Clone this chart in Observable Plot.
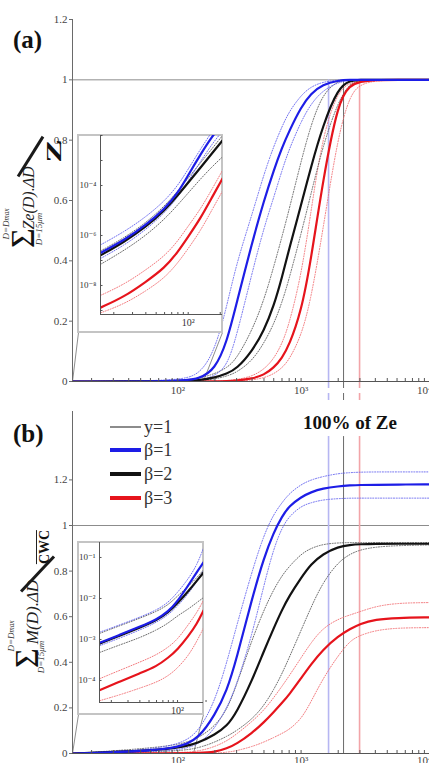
<!DOCTYPE html>
<html>
<head>
<meta charset="utf-8">
<script src="https://cdn.jsdelivr.net/npm/d3@7"></script>
<script src="https://cdn.jsdelivr.net/npm/@observablehq/plot@0.6"></script>
<style>
  html, body { margin: 0; padding: 0; background: #fff; }
  #fig { position: relative; width: 429px; height: 763px; overflow: hidden; background: #fff;
         font-family: "Liberation Serif", "DejaVu Serif", serif; color: #222; }
  #fig svg { position: absolute; left: 0; overflow: visible; }
  .rot { position: absolute; transform: translate(-50%, -50%) rotate(-90deg); white-space: nowrap; line-height: 1; }
  .plain { position: absolute; transform: translate(-50%, -50%); white-space: nowrap; line-height: 1; }
  .tag { position: absolute; font-weight: bold; font-size: 25px; line-height: 1; color: #111; }
  .insetBox { position: absolute; box-sizing: border-box; border: 2px solid #c4c4c4; background: #fff; }
  .bar { position: absolute; background: #1a1a1a; }
  .legend { position: absolute; left: 110px; top: 0; font-size: 18px; color: #333; }
  .legend .row { position: absolute; left: 0; height: 24px; display: flex; align-items: center; white-space: nowrap; }
  .legend .swatch { width: 31px; margin-right: 3px; }
</style>
</head>
<body>
<div id="fig"></div>
<script>
// Drop diameter D (µm) at which every cumulative curve is sampled
const D = [14, 100, 150, 200, 250, 300, 400, 500, 600, 700, 800, 1000, 1200, 1500, 2000, 2500, 3000, 4000, 6000, 11000];

// (a) cumulative reflectivity fraction  sum Ze(D)ΔD / Z
const blueA    = [0, 0, 0.008, 0.04, 0.13, 0.26, 0.46, 0.6, 0.7, 0.775, 0.83, 0.91, 0.955, 0.985, 0.998, 1, 1, 1, 1, 1];
const blueHiA  = [0, 0.002, 0.021, 0.103, 0.25, 0.393, 0.553, 0.688, 0.78, 0.845, 0.895, 0.949, 0.977, 0.993, 1, 1, 1, 1, 1, 1];
const blueLoA  = [0, 0, 0.002, 0.019, 0.05, 0.15, 0.36, 0.51, 0.61, 0.7, 0.77, 0.862, 0.92, 0.965, 0.992, 0.999, 1, 1, 1, 1];
const blackA   = [0, 0, 0.004, 0.013, 0.026, 0.042, 0.100, 0.169, 0.25, 0.345, 0.44, 0.585, 0.71, 0.848, 0.975, 0.998, 1, 1, 1, 1];
const blackHiA = [0, 0.002, 0.01, 0.026, 0.045, 0.075, 0.169, 0.27, 0.38, 0.48, 0.57, 0.73, 0.85, 0.955, 0.998, 1, 1, 1, 1, 1];
const blackLoA = [0, 0, 0.002, 0.008, 0.018, 0.03, 0.068, 0.127, 0.19, 0.262, 0.34, 0.49, 0.62, 0.78, 0.93, 0.99, 0.999, 1, 1, 1];
const redA     = [0, 0, 0, 0, 0.001, 0.003, 0.009, 0.022, 0.045, 0.078, 0.12, 0.23, 0.4, 0.665, 0.93, 0.983, 0.994, 1, 1, 1];
const redHiA   = [0, 0, 0, 0.001, 0.003, 0.006, 0.017, 0.04, 0.075, 0.125, 0.19, 0.35, 0.56, 0.82, 0.965, 0.99, 0.997, 1, 1, 1];
const redLoA   = [0, 0, 0, 0, 0, 0.001, 0.005, 0.012, 0.025, 0.045, 0.072, 0.15, 0.27, 0.5, 0.82, 0.95, 0.985, 0.997, 1, 1];

// (b) cumulative water content fraction  sum M(D)ΔD / CWC
const blueB    = [0, 0.013, 0.07, 0.17, 0.274, 0.416, 0.68, 0.86, 0.97, 1.04, 1.085, 1.125, 1.146, 1.163, 1.172, 1.176, 1.178, 1.178, 1.18, 1.18];
const blueHiB  = [0, 0.02, 0.1, 0.23, 0.4, 0.56, 0.8, 0.96, 1.05, 1.1, 1.14, 1.18, 1.2, 1.215, 1.228, 1.232, 1.234, 1.235, 1.235, 1.235];
const blueLoB  = [0, 0.008, 0.04, 0.11, 0.2, 0.3, 0.52, 0.74, 0.9, 0.99, 1.04, 1.085, 1.1, 1.113, 1.118, 1.12, 1.12, 1.12, 1.12, 1.12];
const blackB   = [0, 0.017, 0.049, 0.083, 0.12, 0.18, 0.32, 0.45, 0.55, 0.63, 0.69, 0.77, 0.83, 0.875, 0.907, 0.915, 0.918, 0.92, 0.92, 0.92];
const blackHiB = [0, 0.03, 0.07, 0.12, 0.19, 0.3, 0.5, 0.63, 0.72, 0.78, 0.82, 0.875, 0.9, 0.918, 0.924, 0.925, 0.925, 0.925, 0.925, 0.925];
const blackLoB = [0, 0.008, 0.025, 0.05, 0.075, 0.1, 0.15, 0.21, 0.28, 0.35, 0.42, 0.54, 0.64, 0.75, 0.84, 0.875, 0.893, 0.906, 0.912, 0.915];
const redB     = [0, 0.001, 0.002, 0.006, 0.022, 0.042, 0.09, 0.137, 0.182, 0.222, 0.258, 0.33, 0.39, 0.455, 0.515, 0.546, 0.569, 0.588, 0.595, 0.597];
const redHiB   = [0, 0.002, 0.01, 0.03, 0.055, 0.085, 0.14, 0.19, 0.245, 0.295, 0.34, 0.42, 0.485, 0.55, 0.59, 0.608, 0.622, 0.645, 0.66, 0.662];
const redLoB   = [0, 0, 0, 0.002, 0.005, 0.012, 0.03, 0.05, 0.07, 0.088, 0.105, 0.15, 0.225, 0.328, 0.43, 0.495, 0.518, 0.54, 0.551, 0.552];

// small-drop detail (log–log insets)
const insetDA = [15, 25, 40, 60, 80, 100, 130, 170, 210];
const blueInA    = [2.0e-7, 6.5e-7, 2.6e-6, 1.15e-5, 5e-5, 2.6e-4, 1.7e-3, 1e-2, 3e-2];
const blueHiInA  = [4.2e-7, 1.4e-6, 5.5e-6, 2.4e-5, 1e-4, 4.5e-4, 2.8e-3, 1.6e-2, 5e-2];
const blueLoInA  = [1.2e-7, 4e-7, 1.7e-6, 8e-6, 3.4e-5, 1.5e-4, 9e-4, 5e-3, 1.5e-2];
const blackInA   = [1.6e-7, 5.5e-7, 2.2e-6, 1e-5, 4.1e-5, 1.3e-4, 5.1e-4, 2.1e-3, 6.3e-3];
const blackHiInA = [2.4e-7, 8e-7, 3.2e-6, 1.5e-5, 6e-5, 2e-4, 8e-4, 3.2e-3, 1e-2];
const blackLoInA = [7e-8, 2.5e-7, 1e-6, 4.5e-6, 1.7e-5, 5e-5, 1.8e-4, 6e-4, 1.4e-3];
const redInA     = [1.3e-9, 3.5e-9, 1.4e-8, 5e-8, 2.2e-7, 9e-7, 4.7e-6, 3.8e-5, 1.9e-4];
const redHiInA   = [4e-9, 1.1e-8, 4.2e-8, 1.5e-7, 6e-7, 2.4e-6, 1.1e-5, 8e-5, 4e-4];
const redLoInA   = [8e-10, 1.8e-9, 6e-9, 2e-8, 8e-8, 3e-7, 1.5e-6, 1.2e-5, 6e-5];

const insetDB = [15, 25, 40, 60, 80, 100, 130, 160, 188];
const blueInB    = [8.3e-4, 1.32e-3, 2.05e-3, 3.05e-3, 4.8e-3, 8.5e-3, 2.1e-2, 4.4e-2, 7.6e-2];
const blueHiInB  = [1.5e-3, 2.3e-3, 3.5e-3, 5.2e-3, 8e-3, 1.4e-2, 3e-2, 6.5e-2, 0.17];
const blueLoInB  = [7e-4, 1.1e-3, 1.7e-3, 2.6e-3, 4e-3, 6.5e-3, 1.3e-2, 2.6e-2, 4.8e-2];
const blackInB   = [7.9e-4, 1.26e-3, 1.95e-3, 2.9e-3, 4.6e-3, 7.6e-3, 1.5e-2, 2.7e-2, 4.3e-2];
const blackHiInB = [1.4e-3, 2.2e-3, 3.3e-3, 4.8e-3, 7e-3, 1.15e-2, 2e-2, 3.2e-2, 5e-2];
const blackLoInB = [4.8e-4, 7.5e-4, 1.1e-3, 1.7e-3, 2.5e-3, 3.8e-3, 5.5e-3, 8e-3, 1.05e-2];
const redInB     = [5.8e-5, 9.5e-5, 1.5e-4, 2.2e-4, 3.6e-4, 5.7e-4, 1.2e-3, 2.4e-3, 5.1e-3];
const redHiInB   = [1.1e-4, 1.8e-4, 2.8e-4, 4.2e-4, 6.5e-4, 1e-3, 2.3e-3, 4.5e-3, 9e-3];
const redLoInB   = [3.2e-5, 4.5e-5, 6.5e-5, 9e-5, 1.3e-4, 2e-4, 4e-4, 9e-4, 1.9e-3];

// diameter reaching 100% of Ze for β = 1, 2, 3
const fullZeD = [1670, 2210, 2980];

// ticks and labels
const yTicks = [0, 0.2, 0.4, 0.6, 0.8, 1, 1.2];
const xMajor = [100, 1000, 10000];
const xMajorLabels = ["10²", "10³", "10⁴"];
const xMinor = [20, 30, 40, 50, 60, 70, 80, 90, 200, 300, 400, 500, 600, 700, 800, 900,
                2000, 3000, 4000, 5000, 6000, 7000, 8000, 9000];
const insetXMinor = [20, 30, 40, 50, 60, 70, 80, 90, 100, 200];
const insetXLabel = [100];
const insetXLabelText = ["10²"];
const insetDecadesA = [1e-9, 1e-8, 1e-7, 1e-6, 1e-5, 1e-4, 1e-3, 1e-2];
const insetYTicksA = [1e-4, 1e-6, 1e-8];
const insetYLabelsA = ["10⁻⁴", "10⁻⁶", "10⁻⁸"];
const insetDecadesB = [1e-4, 1e-3, 1e-2, 1e-1];
const insetYTicksB = [1e-1, 1e-2, 1e-3, 1e-4];
const insetYLabelsB = ["10⁻¹", "10⁻²", "10⁻³", "10⁻⁴"];
const legendLabels = ["y=1", "β=1", "β=2", "β=3"];

// ---- styling ----
const SERIF = '"Liberation Serif", "DejaVu Serif", serif';
const COL = {blue: "#1d1de6", black: "#121212", red: "#e6141c"};
const DOT = {blue: "#6060ee", black: "#5a5a5a", red: "#f06a6e"};
const VLINE = ["#b6b6f2", "#6a6a6a", "#f2a4a8"];
const VLINE_W = [1.6, 1, 1.6];
const FIG_W = 429, PLOT_LEFT = 72;
const X_DOMAIN = [14, 11000];
const fig = document.getElementById("fig");

function curveMark(xs, vs, stroke, solid) {
  const data = xs.map((x, i) => ({x, v: vs[i]}));
  const opts = {x: "x", y: "v", stroke, curve: "basis", clip: true, strokeWidth: solid ? 2.2 : 0.9};
  if (!solid) opts.strokeDasharray = "1,1.6";
  return Plot.line(data, opts);
}

function seriesSet(b, bh, bl, k, kh, kl, r, rh, rl) {
  return [
    {v: rh, c: DOT.red}, {v: rl, c: DOT.red},
    {v: kh, c: DOT.black}, {v: kl, c: DOT.black},
    {v: bh, c: DOT.blue}, {v: bl, c: DOT.blue},
    {v: r, c: COL.red, solid: true}, {v: k, c: COL.black, solid: true}, {v: b, c: COL.blue, solid: true}
  ];
}

function mainPanel(p) {
  const x = d3.scaleLog().domain(X_DOMAIN).range([PLOT_LEFT, FIG_W]);
  const y = d3.scaleLinear().domain([0, p.yMax]).range([p.bottom, p.plotTop]);
  const tickUp = y.invert(p.bottom - 3);
  const tickOut = x.invert(PLOT_LEFT - 3);
  const c0 = {x: x.invert(p.box.left), y: y.invert(p.box.bottom)};
  const c1 = {x: x.invert(p.box.right), y: y.invert(p.box.bottom)};
  const marks = [];
  marks.push(Plot.ruleY([1], {x1: X_DOMAIN[0], x2: X_DOMAIN[1], stroke: "#8c8c8c", strokeWidth: 1}));
  fullZeD.forEach((d, i) => {
    marks.push(Plot.ruleX([d], {y1: 0, y2: p.ruleTop, stroke: VLINE[i], strokeWidth: VLINE_W[i]}));
    if (p.ruleBelow) marks.push(Plot.ruleX([d], {y1: 0, y2: y.invert(p.bottom + p.ruleBelow),
      stroke: VLINE[i], strokeWidth: VLINE_W[i], strokeDasharray: "7,5"}));
  });
  marks.push(Plot.link([
      {x1: X_DOMAIN[0], y1: 0, x2: c0.x, y2: c0.y},
      {x1: p.zoomEnd, y1: 0, x2: c1.x, y2: c1.y}],
    {x1: "x1", y1: "y1", x2: "x2", y2: "y2", stroke: "#808080", strokeWidth: 0.9}));
  for (const s of p.series) marks.push(curveMark(D, s.v, s.c, s.solid));
  marks.push(
    Plot.ruleX([X_DOMAIN[0]], {y1: 0, y2: p.yMax, stroke: "#6a6a6a"}),
    Plot.ruleY([0], {x1: X_DOMAIN[0], x2: X_DOMAIN[1], stroke: "#555"}),
    Plot.ruleY(yTicks, {x1: tickOut, x2: X_DOMAIN[0], stroke: "#6a6a6a"}),
    Plot.text(yTicks, {x: X_DOMAIN[0], y: d => d, text: d => String(d), textAnchor: "end", dx: -5,
      fontSize: 11, fill: "#444"}),
    Plot.ruleX([...xMajor, ...xMinor], {y1: 0, y2: tickUp, stroke: "#555"}),
    Plot.text(xMajor, {x: d => d, y: 0, text: (d, i) => xMajorLabels[i], dy: p.labelDy, fontSize: 11, fill: "#444"})
  );
  const svg = Plot.plot({
    width: FIG_W, height: p.height,
    marginTop: p.plotTop - p.top, marginBottom: p.top + p.height - p.bottom,
    marginLeft: PLOT_LEFT, marginRight: 0,
    x: {type: "log", domain: X_DOMAIN, axis: null},
    y: {domain: [0, p.yMax], axis: null},
    style: {background: "transparent", overflow: "visible", fontFamily: SERIF},
    marks
  });
  svg.style.top = p.top + "px";
  fig.appendChild(svg);
}

function insetPanel(q) {
  const box = document.createElement("div");
  box.className = "insetBox";
  Object.assign(box.style, {left: (q.left - 1) + "px", top: (q.top - 1) + "px",
    width: (q.w + 2) + "px", height: (q.h + 2) + "px"});
  fig.appendChild(box);
  const x = d3.scaleLog().domain(q.xDomain).range([q.axisX, q.left + q.w]);
  const y = d3.scaleLog().domain(q.yDomain).range([q.axisY, q.top]);
  const tickUp = y.invert(q.axisY - 2), tickIn = x.invert(q.axisX + 2.5);
  const marks = [];
  for (const s of q.series) marks.push(curveMark(q.xs, s.v, s.c, s.solid));
  marks.push(
    Plot.ruleX([q.xDomain[0]], {stroke: "#555"}),
    Plot.ruleY([q.yDomain[0]], {stroke: "#555"}),
    Plot.ruleX(insetXMinor, {y1: q.yDomain[0], y2: tickUp, stroke: "#555"}),
    Plot.ruleY(q.decades, {x1: q.xDomain[0], x2: tickIn, stroke: "#555"}),
    Plot.text(q.yTicks, {x: q.xDomain[0], y: d => d, text: (d, i) => q.yLabels[i], textAnchor: "end",
      dx: -4, fontSize: 9, fill: "#333"}),
    Plot.text(insetXLabel, {x: d => d, y: q.yDomain[0], text: (d, i) => insetXLabelText[i], dy: 8,
      fontSize: 10, fill: "#333"})
  );
  const svg = Plot.plot({
    width: q.w, height: q.h,
    marginTop: 0, marginRight: 0, marginLeft: q.axisX - q.left, marginBottom: q.top + q.h - q.axisY,
    x: {type: "log", domain: q.xDomain, axis: null},
    y: {type: "log", domain: q.yDomain, axis: null},
    style: {background: "transparent", overflow: "visible", fontFamily: SERIF},
    marks
  });
  svg.style.left = q.left + "px";
  svg.style.top = q.top + "px";
  fig.appendChild(svg);
}

mainPanel({
  top: 0, height: 410, plotTop: 19, bottom: 381, yMax: 1.2, ruleTop: 1, ruleBelow: 24, zoomEnd: 161,
  labelDy: 9, box: {left: 78, right: 222, bottom: 332},
  series: seriesSet(blueA, blueHiA, blueLoA, blackA, blackHiA, blackLoA, redA, redHiA, redLoA)
});
mainPanel({
  top: 400, height: 363, plotTop: 411, bottom: 753, yMax: 1.5, ruleTop: 1.39, ruleBelow: 0, zoomEnd: 134,
  labelDy: 7, box: {left: 78, right: 203, bottom: 714},
  series: seriesSet(blueB, blueHiB, blueLoB, blackB, blackHiB, blackLoB, redB, redHiB, redLoB)
});
insetPanel({
  left: 78, top: 135, w: 144, h: 197, axisX: 100, axisY: 314,
  xDomain: [15, 210], yDomain: [6.9e-10, 1e-2], xs: insetDA,
  decades: insetDecadesA, yTicks: insetYTicksA, yLabels: insetYLabelsA,
  series: seriesSet(blueInA, blueHiInA, blueLoInA, blackInA, blackHiInA, blackLoInA, redInA, redHiInA, redLoInA)
});
insetPanel({
  left: 78, top: 542, w: 125, h: 172, axisX: 99, axisY: 702,
  xDomain: [15, 188], yDomain: [2.9e-5, 0.232], xs: insetDB,
  decades: insetDecadesB, yTicks: insetYTicksB, yLabels: insetYLabelsB,
  series: seriesSet(blueInB, blueHiInB, blueLoInB, blackInB, blackHiInB, blackLoInB, redInB, redHiInB, redLoInB)
});

// ---- annotations ----
function put(cls, html, cx, cy, css) {
  const el = document.createElement("div");
  el.className = cls;
  el.innerHTML = html;
  el.style.left = cx + "px";
  el.style.top = cy + "px";
  if (css) Object.assign(el.style, css);
  fig.appendChild(el);
  return el;
}
function bar(x1, y1, x2, y2, w) {
  const len = Math.hypot(x2 - x1, y2 - y1);
  const ang = Math.atan2(x2 - x1, y1 - y2) * 180 / Math.PI;
  const el = document.createElement("div");
  el.className = "bar";
  Object.assign(el.style, {left: ((x1 + x2) / 2 - w / 2) + "px", top: ((y1 + y2) / 2 - len / 2) + "px",
    width: w + "px", height: len + "px", transform: `rotate(${ang}deg)`});
  fig.appendChild(el);
}

put("tag", "(a)", 0, 0, {left: "13px", top: "27px"});
put("tag", "(b)", 0, 0, {left: "13px", top: "421px"});

const small = {fontSize: "9px", fontStyle: "italic", color: "#333"};
// (a) y-axis expression
put("rot", "D=D<span style='font-size:0.8em'>max</span>", 7, 224, small);
put("rot", "Σ", 23, 238, {fontSize: "34px", color: "#111"});
put("rot", "D=15μm", 39, 229, small);
put("rot", "Ze(D).ΔD", 29, 198, {fontSize: "16px", fontStyle: "italic", color: "#222"});
bar(18, 177, 43, 137, 3);
put("rot", "Z", 54, 151, {fontSize: "22px", fontWeight: "bold", color: "#111",
  transform: "translate(-50%, -50%) rotate(-90deg) scaleX(1.6)"});

// (b) y-axis expression
put("rot", "D=D<span style='font-size:0.8em'>max</span>", 12, 636, small);
put("rot", "Σ", 27, 658, {fontSize: "34px", color: "#111"});
put("rot", "D=15μm", 41, 657, small);
put("rot", "M(D).ΔD", 32, 612, {fontSize: "17px", fontStyle: "italic", color: "#222"});
bar(21, 592, 54, 557, 3);
put("rot", "CWC", 44, 547, {fontSize: "14px", fontWeight: "bold", color: "#111",
  borderTop: "1.5px solid #222", paddingTop: "1px"});

put("plain", "100% of Ze", 350, 422, {fontSize: "19px", fontWeight: "bold", color: "#111"});

// legend for panel (b)
const legend = document.createElement("div");
legend.className = "legend";
const legendStyle = [{c: "#8c8c8c", w: 1.3}, {c: COL.blue, w: 3.5}, {c: COL.black, w: 3.5}, {c: COL.red, w: 3.5}];
const rowCenters = [427, 450, 474, 498];
legendLabels.forEach((lab, i) => {
  const row = document.createElement("div");
  row.className = "row";
  row.style.top = (rowCenters[i] - 12) + "px";
  row.innerHTML = `<span class="swatch" style="height:${legendStyle[i].w}px;background:${legendStyle[i].c}"></span><span>${lab}</span>`;
  legend.appendChild(row);
});
fig.appendChild(legend);
</script>
</body>
</html>
